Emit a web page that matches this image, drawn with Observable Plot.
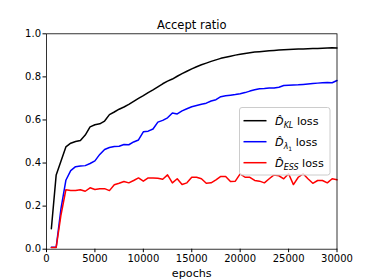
<!DOCTYPE html>
<html><head><meta charset="utf-8">
<script src="https://cdn.jsdelivr.net/npm/d3@7"></script>
<script src="https://cdn.jsdelivr.net/npm/@observablehq/plot@0.6"></script>
<style>body{margin:0;background:#fff} svg{font-family:"DejaVu Sans",sans-serif}</style>
</head><body><div id="chart"></div>
<script>
const title = "Accept ratio";
const xLabel = "epochs";
const xTicks = [0, 5000, 10000, 15000, 20000, 25000, 30000];
const yTicks = [0, 0.2, 0.4, 0.6, 0.8, 1.0];
const epochs = [500,1000,1500,2000,2500,3000,3500,4000,4500,5000,5500,6000,6500,7000,7500,8000,8500,9000,9500,10000,
  10500,11000,11500,12000,12500,13000,13500,14000,14500,15000,15500,16000,16500,17000,17500,18000,18500,19000,19500,20000,
  20500,21000,21500,22000,22500,23000,23500,24000,24500,25000,25500,26000,26500,27000,27500,28000,28500,29000,29500,30000];
const klLoss = [0.095,0.345,0.41,0.475,0.492,0.50,0.505,0.53,0.568,0.578,0.582,0.595,0.625,0.637,0.65,0.66,0.672,0.686,0.70,0.713,
  0.727,0.74,0.754,0.768,0.78,0.79,0.803,0.815,0.826,0.837,0.847,0.856,0.864,0.872,0.879,0.886,0.891,0.896,0.901,0.905,
  0.909,0.912,0.915,0.917,0.919,0.921,0.923,0.925,0.926,0.927,0.928,0.929,0.93,0.931,0.932,0.932,0.933,0.934,0.935,0.934];
const lambdaLoss = [0.009,0.009,0.19,0.32,0.365,0.383,0.386,0.388,0.398,0.41,0.44,0.463,0.472,0.477,0.478,0.486,0.485,0.498,0.507,0.545,
  0.548,0.558,0.59,0.598,0.61,0.632,0.628,0.642,0.652,0.661,0.667,0.673,0.678,0.688,0.694,0.708,0.712,0.715,0.718,0.722,
  0.727,0.734,0.74,0.745,0.746,0.748,0.748,0.752,0.76,0.761,0.762,0.763,0.765,0.767,0.769,0.771,0.773,0.774,0.773,0.783];
const essLoss = [0.008,0.008,0.16,0.276,0.272,0.272,0.276,0.269,0.285,0.277,0.281,0.281,0.272,0.299,0.306,0.314,0.308,0.319,0.331,0.316,
  0.331,0.331,0.329,0.325,0.345,0.308,0.327,0.30,0.308,0.334,0.334,0.327,0.306,0.308,0.322,0.338,0.338,0.314,0.316,0.35,
  0.334,0.334,0.319,0.316,0.308,0.327,0.345,0.341,0.327,0.35,0.30,0.334,0.35,0.327,0.306,0.319,0.319,0.308,0.327,0.322];
const seriesNames = ["kl", "lambda", "ess"];
const seriesColors = ["#000000", "#0000ff", "#ff0000"];
const seriesValues = [klLoss, lambdaLoss, essLoss];
// legend labels: parts [text, style] where style: i=italic, is=italic subscript, ss=sub-subscript
const legendLabels = [
  [["D\u0302","i"],["KL","is"],[" loss",""]],
  [["D\u0302","i"],["\u03bb","is"],["1","ss"],[" loss",""]],
  [["D\u0302","i"],["ESS","is"],[" loss",""]]
];

const rows = [];
seriesNames.forEach((n, k) => seriesValues[k].forEach((v, i) => rows.push({epoch: epochs[i], value: v, series: n})));

const plot = Plot.plot({
  width: 374, height: 280,
  marginLeft: 46, marginRight: 37.5, marginTop: 33.3, marginBottom: 31.3,
  style: {fontFamily: '"DejaVu Sans", sans-serif', fontSize: "10px", color: "#000", background: "#fff", overflow: "visible"},
  x: {domain: [0, 30000]},
  y: {domain: [0, 1]},
  color: {domain: seriesNames, range: seriesColors},
  marks: [
    Plot.lineY(rows, {x: "epoch", y: "value", z: "series", stroke: "series", strokeWidth: 1.5}),
    Plot.frame({stroke: "#000", strokeWidth: 0.8}),
    Plot.axisX({ticks: xTicks, tickSize: 3.5, tickPadding: 2, tickFormat: d => String(d), label: null, fontSize: 10}),
    Plot.axisY({ticks: yTicks, tickSize: 3.5, tickPadding: 2, tickFormat: d3.format(".1f"), label: null, fontSize: 10}),
    Plot.text([title], {frameAnchor: "top", lineAnchor: "middle", dy: -8.5, fontSize: 11.5}),
    Plot.text([xLabel], {frameAnchor: "bottom", lineAnchor: "middle", dy: 24.5, fontSize: 11.2})
  ]
});
document.getElementById("chart").appendChild(plot);

// legend
const svg = d3.select(plot);
const lg = svg.append("g").attr("class", "legend").attr("text-anchor", "start");
const bx = 239.5, by = 107.5, bw = 90.5, bh = 67.5;
lg.append("rect").attr("x", bx).attr("y", by).attr("width", bw).attr("height", bh)
  .attr("rx", 2.5).attr("fill", "#fff").attr("fill-opacity", 0.8).attr("stroke", "#cccccc").attr("stroke-width", 1);
legendLabels.forEach((parts, k) => {
  const cy = 120.7 + k * 21;
  lg.append("line").attr("x1", 243.5).attr("x2", 266.5).attr("y1", cy).attr("y2", cy)
    .attr("stroke", seriesColors[k]).attr("stroke-width", 1.5);
  const t = lg.append("text").attr("x", 275).attr("y", cy + 4).attr("font-size", 11.2)
    .attr("fill", "#000").attr("text-anchor", "start");
  let shift = 0;
  parts.forEach(([txt, st]) => {
    const sp = t.append("tspan").text(txt);
    if (st.includes("i")) sp.attr("font-style", "italic");
    let target = 0, fs = 11.2;
    if (st === "is") { target = 3; fs = 8; }
    if (st === "ss") { target = 5; fs = 6; }
    sp.attr("font-size", fs).attr("dy", target - shift);
    shift = target;
  });
});
</script></body></html>
